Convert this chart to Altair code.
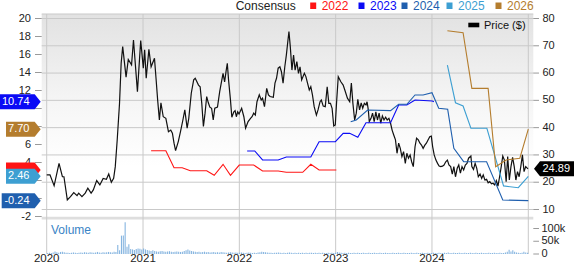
import altair as alt
import pandas as pd

FONT = "Liberation Sans"

# ---------------- values ----------------
price_t = [2020.000, 2020.034, 2020.077, 2020.128, 2020.163, 2020.179, 2020.214, 2020.247, 2020.281, 2020.315,
           2020.332, 2020.366, 2020.400, 2020.427, 2020.461, 2020.484, 2020.519, 2020.552, 2020.586, 2020.620,
           2020.644, 2020.671, 2020.695, 2020.712, 2020.732, 2020.756, 2020.773, 2020.789, 2020.824, 2020.847,
           2020.881, 2020.901, 2020.942, 2020.976, 2021.003,
           2021.017, 2021.033, 2021.061, 2021.084, 2021.119, 2021.135, 2021.152, 2021.170, 2021.186, 2021.210,
           2021.237, 2021.264, 2021.288, 2021.305, 2021.322, 2021.338, 2021.366, 2021.389, 2021.414, 2021.434,
           2021.458, 2021.475, 2021.501, 2021.526, 2021.542, 2021.576, 2021.593, 2021.610, 2021.627, 2021.644,
           2021.661, 2021.678, 2021.694, 2021.712, 2021.729, 2021.745, 2021.773, 2021.796, 2021.813, 2021.831,
           2021.847, 2021.864, 2021.875, 2021.888, 2021.908, 2021.922, 2021.943, 2021.956, 2021.969, 2021.983,
           2021.997, 2022.024, 2022.047, 2022.065, 2022.091, 2022.116, 2022.132, 2022.149, 2022.166, 2022.183,
           2022.207, 2022.227, 2022.241, 2022.261, 2022.284, 2022.302, 2022.319, 2022.353, 2022.370, 2022.386,
           2022.403, 2022.421, 2022.437, 2022.454, 2022.472, 2022.488, 2022.505, 2022.515, 2022.529, 2022.546,
           2022.563, 2022.579, 2022.597, 2022.614, 2022.630, 2022.647, 2022.675, 2022.691, 2022.708, 2022.726,
           2022.742, 2022.759, 2022.777, 2022.800, 2022.817, 2022.838, 2022.851, 2022.871, 2022.892, 2022.912,
           2022.929, 2022.946, 2022.963, 2022.980, 2022.996, 2023.011,
           2023.027, 2023.054, 2023.078, 2023.095, 2023.122, 2023.146, 2023.163, 2023.179, 2023.197, 2023.214,
           2023.230, 2023.248, 2023.265, 2023.281, 2023.298, 2023.315, 2023.326, 2023.339, 2023.349, 2023.367,
           2023.383, 2023.400, 2023.417, 2023.434, 2023.451, 2023.468, 2023.485, 2023.502, 2023.519, 2023.535,
           2023.553, 2023.570, 2023.586, 2023.603, 2023.621, 2023.637, 2023.654, 2023.671, 2023.688, 2023.705,
           2023.723, 2023.739, 2023.756, 2023.773, 2023.789, 2023.806, 2023.824, 2023.840, 2023.858, 2023.875,
           2023.891, 2023.908, 2023.926, 2023.942, 2023.959, 2023.977, 2023.993, 2024.007,
           2024.023, 2024.041, 2024.058, 2024.074, 2024.091, 2024.109, 2024.125, 2024.143, 2024.160, 2024.176,
           2024.194, 2024.211, 2024.227, 2024.244, 2024.262, 2024.278, 2024.295, 2024.312, 2024.329, 2024.346,
           2024.363, 2024.380, 2024.404, 2024.414, 2024.431, 2024.448, 2024.465, 2024.481, 2024.499, 2024.516,
           2024.532, 2024.549, 2024.567, 2024.583, 2024.600, 2024.618, 2024.634, 2024.651, 2024.668, 2024.685,
           2024.702, 2024.719, 2024.735, 2024.752, 2024.770, 2024.786, 2024.803, 2024.820, 2024.837, 2024.854,
           2024.871, 2024.888, 2024.905, 2024.922, 2024.939, 2024.956, 2024.973, 2024.997]
price_v = [22.7, 22.7, 18.7, 26.9, 22.0, 22.0, 13.5, 14.7, 16.2, 15.1,
           16.0, 14.7, 16.0, 17.8, 16.0, 17.2, 20.6, 19.0, 21.4, 21.1,
           23.0, 20.0, 21.4, 25.7, 35.5, 48.9, 63.6, 69.7, 58.5, 65.0,
           63.0, 72.1, 53.2, 71.9, 61.8,
           68.5, 58.1, 68.7, 62.3, 65.4, 58.1, 50.1, 42.8, 49.1, 44.0,
           43.4, 38.5, 39.1, 38.0, 34.3, 31.6, 34.9, 38.5, 42.8, 46.5,
           39.8, 43.4, 52.6, 57.5, 58.1, 55.6, 55.0, 48.9, 40.4, 45.3,
           51.4, 49.1, 47.5, 47.1, 42.8, 47.1, 47.5, 53.2, 56.5, 59.9,
           56.8, 61.1, 63.6, 57.5, 50.1, 43.8, 45.8, 46.2, 44.0, 45.8,
           45.0, 47.1, 44.0, 39.8, 42.2, 43.4, 44.0, 45.3, 44.6, 49.5,
           52.0, 50.1, 50.8, 47.7, 54.4, 52.0, 51.4, 51.1, 56.3, 58.1,
           61.8, 62.3, 60.5, 56.3, 62.3, 66.6, 72.1, 75.2, 69.7, 61.1,
           66.6, 61.1, 64.2, 59.9, 62.3, 57.5, 59.9, 58.7, 56.3, 53.8,
           55.0, 52.0, 47.7, 44.6, 46.5, 49.5, 50.1, 47.9, 47.7, 55.0,
           48.9, 48.9, 47.1, 40.6, 41.0, 50.1,
           58.7, 56.8, 55.6, 53.8, 50.8, 49.5, 56.3, 48.9, 42.8, 45.3,
           50.4, 46.5, 49.1, 47.1, 48.9, 48.3, 49.5, 46.5, 42.2, 43.4,
           45.3, 42.2, 45.8, 42.8, 45.3, 41.6, 44.3, 42.8, 43.8, 42.8,
           43.4, 41.6, 39.1, 37.3, 35.5, 30.6, 34.3, 32.4, 29.4, 31.2,
           26.9, 30.6, 28.8, 30.0, 27.5, 25.7, 33.0, 36.1, 35.5, 34.3,
           33.6, 32.4, 33.6, 34.3, 35.5, 36.7, 36.9, 33.0,
           30.0, 28.1, 26.9, 25.9, 25.7, 25.9, 26.3, 27.5, 28.1, 26.3,
           25.7, 23.0, 25.7, 22.0, 25.1, 26.3, 23.3, 25.7, 24.5, 26.3,
           26.9, 28.8, 29.6, 25.7, 24.7, 26.9, 25.1, 22.0, 23.0, 21.4,
           22.7, 20.8, 21.1, 19.8, 20.2, 19.4, 19.6, 19.0, 20.6, 18.6,
           22.0, 25.7, 29.6, 28.1, 20.2, 29.4, 20.8, 25.7, 29.1, 25.7,
           20.8, 23.9, 22.0, 25.7, 30.0, 23.9, 25.7, 24.89]

cons_2022_t = [2021.084, 2021.237, 2021.322, 2021.407, 2021.491, 2021.661, 2021.739, 2021.831, 2021.908,
               2021.999, 2022.149, 2022.241, 2022.403, 2022.488, 2022.658, 2022.742, 2022.828, 2023.007]
cons_2022_v = [5.31, 5.31, 3.42, 3.42, 3.09, 3.09, 2.58, 3.80, 2.58,
               3.72, 3.72, 3.06, 3.06, 2.91, 2.91, 3.80, 3.17, 3.17]
cons_2023_t = [2022.081, 2022.160, 2022.241, 2022.403, 2022.488, 2022.742, 2022.828, 2022.997, 2023.078,
               2023.146, 2023.230, 2023.315, 2023.570, 2023.654, 2023.739, 2023.824, 2024.003, 2024.020]
cons_2023_v = [5.28, 5.28, 4.28, 4.28, 4.61, 4.61, 6.31, 6.31, 7.24,
               7.24, 6.80, 8.42, 8.42, 10.39, 10.39, 10.94, 10.83, 10.74]
cons_2024_t = [2023.156, 2023.214, 2023.332, 2023.570, 2023.654, 2023.739, 2023.824, 2023.908,
               2024.000, 2024.070, 2024.163, 2024.227, 2024.329, 2024.567, 2024.735, 2025.000]
cons_2024_v = [8.53, 8.72, 9.83, 9.76, 10.47, 10.47, 11.50, 11.50,
               11.76, 10.02, 9.91, 5.58, 4.09, 4.09, -0.17, -0.24]
cons_2025_t = [2024.160, 2024.244, 2024.323, 2024.404, 2024.570, 2024.743, 2024.896, 2025.000]
cons_2025_v = [14.83, 10.64, 10.28, 7.80, 7.80, 1.40, 1.20, 2.46]
cons_2026_t = [2024.160, 2024.323, 2024.414, 2024.583, 2024.661, 2024.770, 2024.912, 2025.000]
cons_2026_v = [18.64, 18.42, 12.24, 12.24, 3.53, 4.28, 4.47, 7.70]

# weekly volume, thousands of shares
vol_2020 = [4, 5, 4, 6, 10, 7, 5, 8, 9, 7, 5, 5, 4, 5, 6, 5, 4, 5, 6, 5, 7, 6, 5, 7, 6, 5,
            6, 8, 6, 5, 7, 6, 7, 8, 7, 6, 9, 8, 35, 15, 72, 73, 125, 28, 38, 20, 18, 16, 20, 22, 21, 18]
vol_2021 = [22, 18, 16, 14, 12, 15, 12, 10, 9, 11, 12, 10, 9, 10, 11, 9, 8, 9, 10, 9, 8, 9, 12, 15, 18, 14,
            12, 10, 9, 8, 9, 7, 8, 9, 7, 8, 6, 7, 8, 6, 7, 6, 8, 7, 6, 5, 6, 7, 6, 5, 6, 5]
vol_2022 = [5, 6, 5, 4, 5, 6, 5, 4, 5, 4, 6, 7, 9, 8, 7, 6, 5, 5, 4, 5, 5, 6, 5, 4, 5, 4,
            5, 6, 5, 4, 5, 4, 5, 4, 5, 4, 5, 4, 5, 5, 4, 5, 4, 5, 4, 5, 4, 4, 5, 4, 5, 4]
vol_2023 = [5, 8, 6, 5, 4, 5, 4, 5, 4, 4, 5, 4, 5, 4, 4, 5, 4, 4, 5, 4, 4, 5, 4, 4, 5, 4,
            4, 5, 4, 4, 4, 5, 4, 4, 5, 4, 4, 5, 4, 4, 4, 5, 4, 4, 5, 4, 4, 5, 4, 4, 5, 4]
vol_2024 = [4, 5, 4, 4, 5, 4, 4, 5, 4, 6, 4, 4, 5, 4, 4, 5, 4, 4, 5, 4, 4, 5, 4, 4, 5, 4,
            4, 5, 4, 4, 4, 5, 4, 4, 5, 4, 4, 5, 4, 4, 6, 9, 17, 10, 15, 9, 6, 5, 4, 5, 9, 6, 5]

left_ticks = [-2, 0, 2, 4, 6, 8, 10, 12, 14, 16, 18, 20]
right_ticks = [10, 20, 30, 40, 50, 60, 70, 80]
vol_ticks = [0, 50, 100]
vol_tick_labels = ["0", "50k", "100k"]
years = [2020, 2021, 2022, 2023, 2024, 2025]
year_labels = ["2020", "2021", "2022", "2023", "2024", ""]
series_names = ["2022", "2023", "2024", "2025", "2026"]
series_colors = ["#ff1414", "#0a0af5", "#1f5fae", "#3d9fd2", "#b47d2e"]
last_price = 24.89

# ---------------- tables ----------------
price_df = pd.DataFrame({"t": price_t, "p": price_v})
cons_lists = [(cons_2022_t, cons_2022_v), (cons_2023_t, cons_2023_v), (cons_2024_t, cons_2024_v),
              (cons_2025_t, cons_2025_v), (cons_2026_t, cons_2026_v)]
cons_df = pd.concat([pd.DataFrame({"t": t, "v": v, "s": name})
                     for (t, v), name in zip(cons_lists, series_names)], ignore_index=True)
vol_all = vol_2020 + vol_2021 + vol_2022 + vol_2023 + vol_2024
vol_df = pd.DataFrame({"w": range(len(vol_all)), "k": vol_all})
vol_df["t"] = 2020 + (vol_df["w"] + 0.5) * 7 / 365.25
one = pd.DataFrame({"a": [0]})

# ---------------- scales (pixel ranges = layout) ----------------
XS = alt.Scale(domain=[2020, 2025], range=[41.7, 533.3], nice=False, zero=False)
YL = alt.Scale(domain=[-2, 20], range=[216.5, 18.5], nice=False, zero=False)
YR = alt.Scale(domain=[10, 80], range=[209.5, 18.5], nice=False, zero=False)
YV = alt.Scale(domain=[0, 100], range=[254, 228.5], nice=False, zero=True)

GRID = "#c9c9c9"
TAG_HALF = 7.5 / 9.0  # half tag height in left-axis units
layers = []

# panel background with gradient
grad = alt.LinearGradient(gradient="linear", x1=0, x2=0, y1=0, y2=1,
                          stops=[alt.GradientStop(color="#e2e2e2", offset=0),
                                 alt.GradientStop(color="#f6f6f6", offset=0.45),
                                 alt.GradientStop(color="#ffffff", offset=0.75)])
layers.append(alt.Chart(one).mark_rect(fill=grad).encode(
    x=alt.value(41.7), x2=alt.value(533.3), y=alt.value(14), y2=alt.value(217)))
# separator band between price panel and volume panel
layers.append(alt.Chart(one).mark_rect(color="#dedede").encode(
    x=alt.value(41.7), x2=alt.value(533.3), y=alt.value(216.8), y2=alt.value(219.4)))
# top border
layers.append(alt.Chart(one).mark_rule(color=GRID).encode(
    x=alt.value(41.7), x2=alt.value(533.3), y=alt.value(14)))

# horizontal gridlines (price axis ticks)
rt_df = pd.DataFrame({"v": right_ticks, "lab": [str(v) for v in right_ticks]})
layers.append(alt.Chart(rt_df).mark_rule(color=GRID, strokeWidth=1).encode(
    y=alt.Y("v:Q", scale=YR, axis=None), x=alt.value(41.7), x2=alt.value(533.3)))
# vertical gridlines (years)
yr_df = pd.DataFrame({"t": years, "lab": year_labels})
layers.append(alt.Chart(yr_df).mark_rule(color=GRID, strokeWidth=1).encode(
    x=alt.X("t:Q", scale=XS, axis=None), y=alt.value(14), y2=alt.value(254)))

# volume bars
layers.append(alt.Chart(vol_df).mark_bar(size=1.1, color="#86b5e0").encode(
    x=alt.X("t:Q", scale=XS, axis=None), y=alt.Y("k:Q", scale=YV, axis=None), y2=alt.datum(0)))
layers.append(alt.Chart(one).mark_text(text="Volume", font=FONT, fontSize=12, color="#3a84c6",
                                       align="left", baseline="alphabetic").encode(
    x=alt.value(51), y=alt.value(233.5)))

# price line
layers.append(alt.Chart(price_df).mark_line(color="#111111", strokeWidth=1.2).encode(
    x=alt.X("t:Q", scale=XS, axis=None), y=alt.Y("p:Q", scale=YR, axis=None)))

# consensus lines
layers.append(alt.Chart(cons_df).mark_line(strokeWidth=1.1).encode(
    x=alt.X("t:Q", scale=XS, axis=None), y=alt.Y("v:Q", scale=YL, axis=None),
    color=alt.Color("s:N", scale=alt.Scale(domain=series_names, range=series_colors), legend=None),
    detail="s:N"))

# left axis ticks and labels (labels that sit under a value tag are hidden there, as in the reference)
tag_values = [v[-1] for (_, v) in cons_lists[1:]]
lt_df = pd.DataFrame({"v": left_ticks, "lab": [str(v) for v in left_ticks]})
lt_vis = lt_df[[all(abs(v - tv) > TAG_HALF for tv in tag_values) for v in left_ticks]]
layers.append(alt.Chart(lt_df).mark_rule(color="#9a9a9a").encode(
    y=alt.Y("v:Q", scale=YL, axis=None), x=alt.value(35), x2=alt.value(41.7)))
layers.append(alt.Chart(lt_vis).mark_text(font=FONT, fontSize=11, color="#222222", align="right",
                                          baseline="middle").encode(
    y=alt.Y("v:Q", scale=YL, axis=None), x=alt.value(31), text="lab:N"))

# right axis ticks and labels (price)
layers.append(alt.Chart(rt_df).mark_rule(color="#9a9a9a").encode(
    y=alt.Y("v:Q", scale=YR, axis=None), x=alt.value(533.3), x2=alt.value(539)))
layers.append(alt.Chart(rt_df).mark_text(font=FONT, fontSize=11, color="#222222", align="left",
                                         baseline="middle").encode(
    y=alt.Y("v:Q", scale=YR, axis=None), x=alt.value(542.5), text="lab:N"))

# volume axis
vt_df = pd.DataFrame({"v": vol_ticks, "lab": vol_tick_labels})
layers.append(alt.Chart(vt_df).mark_rule(color="#9a9a9a").encode(
    y=alt.Y("v:Q", scale=YV, axis=None), x=alt.value(533.3), x2=alt.value(539)))
layers.append(alt.Chart(vt_df).mark_text(font=FONT, fontSize=11, color="#222222", align="left",
                                         baseline="middle").encode(
    y=alt.Y("v:Q", scale=YV, axis=None), x=alt.value(541.5), text="lab:N"))

# year labels
layers.append(alt.Chart(yr_df).mark_text(font=FONT, fontSize=11.5, color="#222222", align="center",
                                         baseline="bottom").encode(
    x=alt.X("t:Q", scale=XS, axis=None), y=alt.value(264), text="lab:N"))

# top legend
layers.append(alt.Chart(one).mark_text(text="Consensus", font=FONT, fontSize=12, color="#222222",
                                       align="left", baseline="alphabetic").encode(
    x=alt.value(235.7), y=alt.value(10)))
legend_text_x = [321.7, 370.0, 413.0, 458.0, 507.0]
for name, col, tx in zip(series_names, series_colors, legend_text_x):
    layers.append(alt.Chart(one).mark_rect(color=col).encode(
        x=alt.value(tx - 11.5), x2=alt.value(tx - 5.5), y=alt.value(2.5), y2=alt.value(9)))
    layers.append(alt.Chart(one).mark_text(text=name, font=FONT, fontSize=12, color=col,
                                           align="left", baseline="alphabetic").encode(
        x=alt.value(tx), y=alt.value(10)))
# price legend
layers.append(alt.Chart(one).mark_rect(color="#000000").encode(
    x=alt.value(468.3), x2=alt.value(479.3), y=alt.value(22.7), y2=alt.value(27.3)))
layers.append(alt.Chart(one).mark_text(text="Price ($)", font=FONT, fontSize=11, color="#111111",
                                       align="left", baseline="alphabetic").encode(
    x=alt.value(484), y=alt.value(29)))


# value tags
def tag_path(width, height=15.0, depth=6.0, point_right=True):
    h = height / width
    d = 2 * depth / width
    if point_right:
        return f"M-1,{-h:.4f} L{1 - d:.4f},{-h:.4f} L1,0 L{1 - d:.4f},{h:.4f} L-1,{h:.4f} Z"
    return f"M1,{-h:.4f} L{-1 + d:.4f},{-h:.4f} L-1,0 L{-1 + d:.4f},{h:.4f} L1,{h:.4f} Z"


tag_left_edge = {"2022": 6.0, "2023": 0.0, "2024": 1.7, "2025": 6.0, "2026": 6.0}
tip = 40.7
for (t, v), name, col in zip(cons_lists, series_names, series_colors):
    x0 = tag_left_edge[name]
    w = tip - x0
    df = pd.DataFrame({"v": [v[-1]], "lab": [f"{v[-1]:.2f}"]})
    layers.append(alt.Chart(df).mark_point(shape=tag_path(w), size=w * w, filled=True, fill=col,
                                           opacity=1, strokeWidth=0).encode(
        x=alt.value((x0 + tip) / 2), y=alt.Y("v:Q", scale=YL, axis=None)))
    if name != "2022":
        layers.append(alt.Chart(df).mark_text(font=FONT, fontSize=11, color="white", align="right",
                                              baseline="middle").encode(
            x=alt.value(29.5), y=alt.Y("v:Q", scale=YL, axis=None), text="lab:N"))

pdf = pd.DataFrame({"p": [last_price], "lab": [f"{last_price:.2f}"]})
layers.append(alt.Chart(pdf).mark_point(shape=tag_path(40.0, point_right=False), size=1600, filled=True,
                                        fill="#000000", opacity=1, strokeWidth=0).encode(
    x=alt.value(554), y=alt.Y("p:Q", scale=YR, axis=None)))
layers.append(alt.Chart(pdf).mark_text(font=FONT, fontSize=11, color="white", align="left",
                                       baseline="middle").encode(
    x=alt.value(542.5), y=alt.Y("p:Q", scale=YR, axis=None), text="lab:N"))

chart = alt.layer(*layers).resolve_scale(y="independent").properties(
    width=574, height=264, autosize=alt.AutoSizeParams(type="none"), padding=0
).configure_view(strokeWidth=0)

chart.save("out.html", embed_options={"renderer": "svg", "actions": False})
